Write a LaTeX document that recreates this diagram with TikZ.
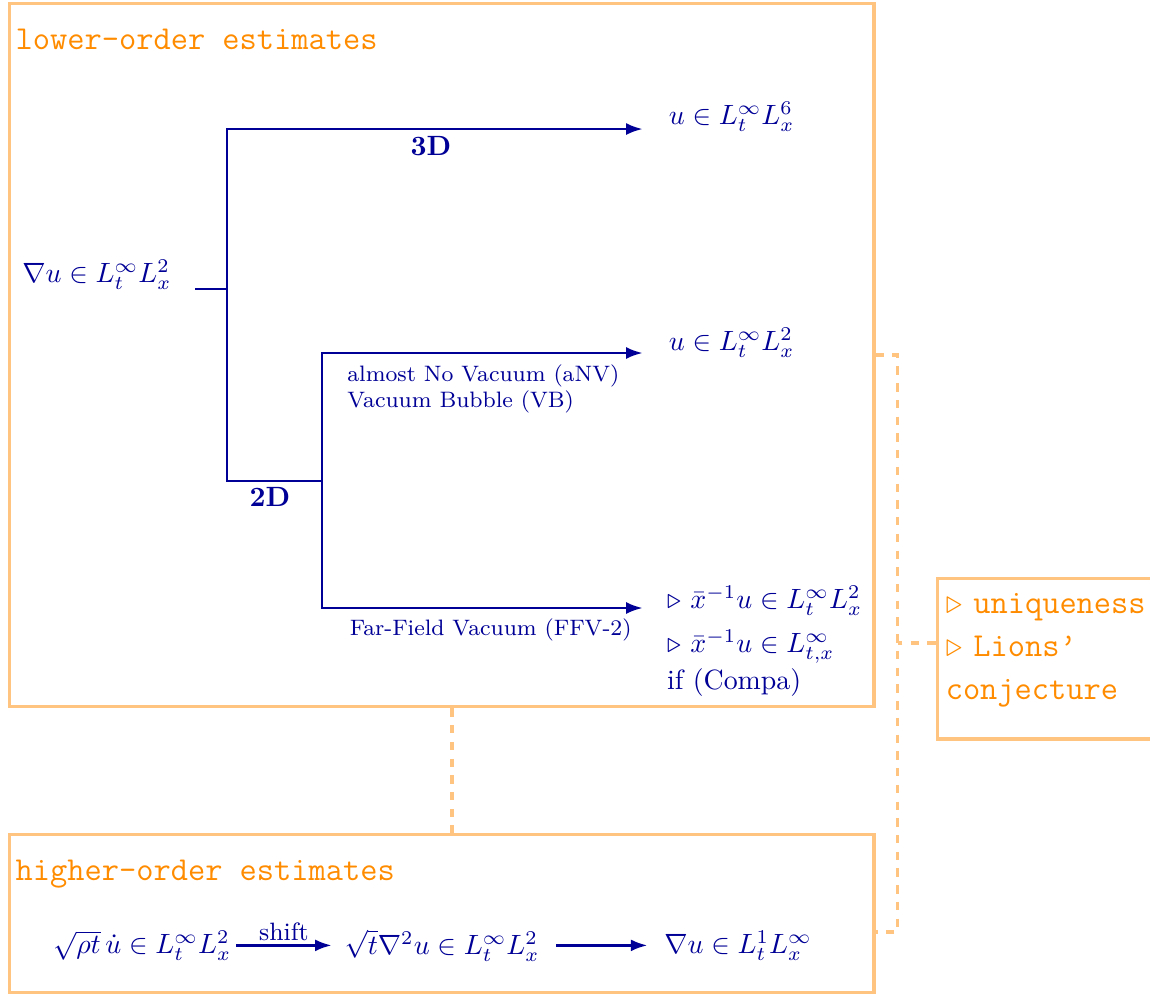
\documentclass[tikz,border=0pt]{standalone}
\usepackage{amsmath}
\usetikzlibrary{arrows.meta,positioning}
\definecolor{estblue}{RGB}{0,0,150}
\definecolor{estorange}{RGB}{255,140,0}
\definecolor{boxorange}{RGB}{255,196,128}
\tikzset{
  framebox/.style={draw=boxorange,line width=1.2pt,inner sep=0pt,anchor=north west},
  titletext/.style={font=\large\ttfamily,text=estorange,anchor=west,inner sep=0pt},
  mathtext/.style={text=estblue,inner sep=0pt},
  treeline/.style={draw=estblue,line width=1pt},
  linkdash/.style={draw=boxorange,line width=1.2pt,dashed}
}

\begin{document}
\begin{tikzpicture}[>={Latex[length=6pt,width=4.3pt]}]
\useasboundingbox (0,0) rectangle (14.49,12.512);
% frames
\node[framebox,minimum width=10.89cm,minimum height=8.858cm] (low_box) at (0.10,12.487) {};
\node[framebox,minimum width=10.89cm,minimum height=1.99cm] (high_box) at (0.10,2.016) {};
\node[framebox,inner sep=3pt,text width=2.9cm,minimum height=2.02cm,align=left,font=\large\ttfamily,text=estorange] (lim_box) at (11.79,5.24) {$\triangleright$ uniqueness\\[1.5pt]$\triangleright$ Lions\textquoteright\\[1.5pt]conjecture\\[-5pt]\mbox{}};
\node[titletext] (low_title) at (0.19,12.01) {lower-order estimates};
\node[titletext] (high_title) at (0.19,1.50) {higher-order estimates};

% lower-order tree
\node[mathtext] (grad_l2) at (1.22,9.05) {$\nabla u\in L^\infty_tL^2_x$};
\coordinate (root) at (2.457,8.87);
\coordinate (split) at (2.86,8.87);
\coordinate (fork3) at (2.86,10.886);
\coordinate (fork2) at (2.86,6.451);
\coordinate (split2) at (4.057,6.451);
\coordinate (fork_a) at (4.057,8.064);
\coordinate (fork_b) at (4.057,4.851);
\coordinate (tip3) at (8.10,10.886);
\coordinate (tip_a) at (8.10,8.064);
\coordinate (tip_b) at (8.10,4.851);
\draw[treeline] (root) -- (split);
\draw[treeline,<-] (tip3) -- (fork3) -- (fork2) -- (split2);
\draw[treeline,<->] (tip_a) -- (fork_a) -- (fork_b) -- (tip_b);

\node[mathtext,font=\bfseries] (lbl_3d) at (5.43,10.67) {3D};
\node[mathtext,font=\bfseries] (lbl_2d) at (3.40,6.25) {2D};
\node[mathtext,font=\footnotesize,align=left,anchor=north west] (lbl_anv) at (4.37,7.925) {almost No Vacuum (aNV)\\Vacuum Bubble (VB)};
\node[mathtext,font=\footnotesize,anchor=west] (lbl_ffv) at (4.40,4.574) {Far-Field Vacuum (FFV-2)};

\node[mathtext,anchor=west] (u_l6) at (8.42,11.04) {$u\in L^\infty_tL^6_x$};
\node[mathtext,anchor=west] (u_l2) at (8.42,8.19) {$u\in L^\infty_tL^2_x$};
\node[mathtext,anchor=north west,align=left] (ffv_out) at (8.40,5.14) {$\triangleright\ \bar x^{-1}u\in L^\infty_tL^2_x$\\[4pt]$\triangleright\ \bar x^{-1}u\in L^\infty_{t,x}$\\[1pt]if (Compa)};

% higher-order row
\node[mathtext,inner sep=3pt] (hi_a) at (1.79,0.6) {$\sqrt{\rho t}\,\dot u\in L^\infty_tL^2_x$};
\node[mathtext,inner sep=3pt] (hi_b) at (5.57,0.6) {$\sqrt{t}\nabla^2u\in L^\infty_tL^2_x$};
\node[mathtext,inner sep=3pt] (hi_c) at (9.30,0.6) {$\nabla u\in L^1_tL^\infty_x$};
\draw[treeline,->] ([xshift=-0.05cm]hi_a.east) -- node[mathtext,above=1pt,font=\small] (lbl_shift) {shift} ([xshift=-0.05cm]hi_a.east -| hi_b.west);
\draw[treeline,->] ([xshift=0.1cm]hi_b.east) -- ([xshift=-0.1cm]hi_b.east -| hi_c.west);

% dashed links
\draw[linkdash] ([xshift=0.13cm]low_box.south) -- ([xshift=0.13cm]high_box.north);
\draw[linkdash] (low_box.east) -- ++(0.28,0) coordinate (bend) |- ([yshift=-0.23cm]high_box.east);
\coordinate (lim_in) at ([yshift=0.2cm]lim_box.west);
\draw[linkdash] (lim_in) -- (lim_in -| bend);
\end{tikzpicture}
\end{document}
